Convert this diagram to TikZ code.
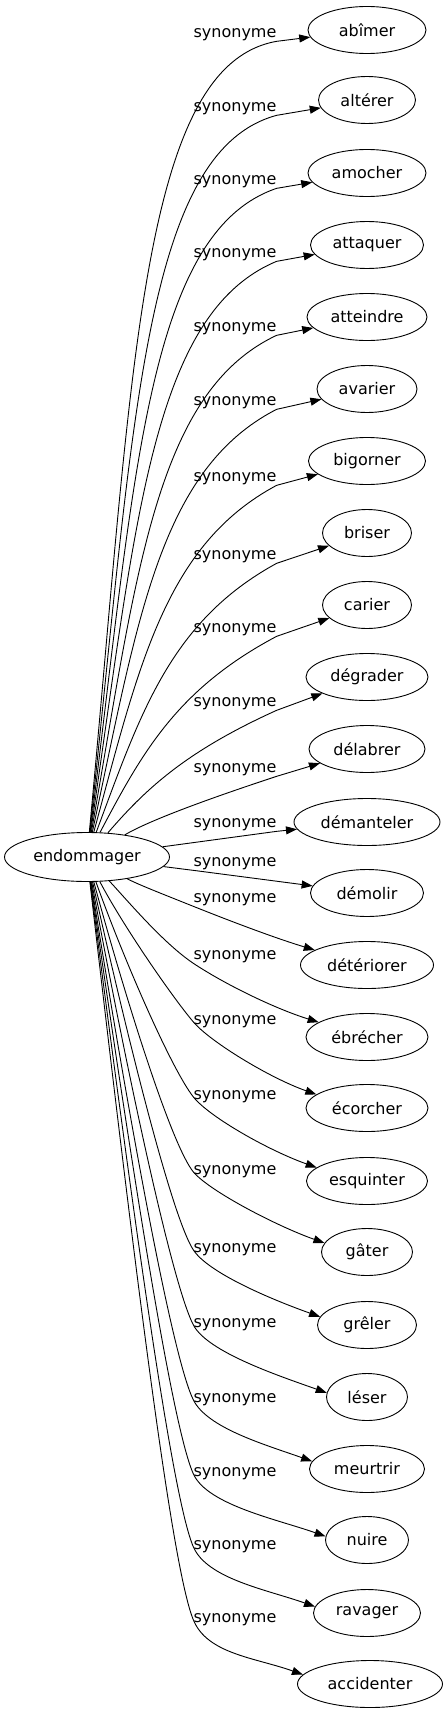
\documentclass[tikz,border=0pt]{standalone}
\usepackage{fontspec}
\setmainfont{DejaVu Sans}
\usetikzlibrary{shapes.geometric,arrows.meta}

\begin{document}
\begin{tikzpicture}[x=1pt,y=-1pt,
  every node/.style={font=\fontsize{16}{19}\selectfont},
  word/.style={draw,ellipse,inner sep=0pt,minimum height=47pt,line width=0.9pt},
  rel/.style={inner sep=0pt},
  link/.style={line width=0.9pt,-{Triangle[length=11pt,width=8pt]}}]

\useasboundingbox (0,0) rectangle (445,1715);

\node[word,minimum width=165pt,minimum height=49pt] (endommager) at (87,857) {endommager};

\node[word,minimum width=118pt] (abimer) at (367,30) {abîmer};
\node[word,minimum width=97pt] (alterer) at (367,100) {altérer};
\node[word,minimum width=118pt] (amocher) at (367,173) {amocher};
\node[word,minimum width=113pt] (attaquer) at (367,245) {attaquer};
\node[word,minimum width=120pt] (atteindre) at (367,317) {atteindre};
\node[word,minimum width=100pt] (avarier) at (367,389) {avarier};
\node[word,minimum width=117pt] (bigorner) at (367,461) {bigorner};
\node[word,minimum width=89pt] (briser) at (367,533) {briser};
\node[word,minimum width=89pt] (carier) at (367,605) {carier};
\node[word,minimum width=122pt] (degrader) at (367,677) {dégrader};
\node[word,minimum width=116pt] (delabrer) at (367,749) {délabrer};
\node[word,minimum width=146pt] (demanteler) at (367,822) {démanteler};
\node[word,minimum width=113pt] (demolir) at (367,893) {démolir};
\node[word,minimum width=133pt] (deteriorer) at (367,965) {détériorer};
\node[word,minimum width=122pt] (ebrecher) at (367,1037) {ébrécher};
\node[word,minimum width=122pt] (ecorcher) at (367,1108) {écorcher};
\node[word,minimum width=121pt] (esquinter) at (367,1181) {esquinter};
\node[word,minimum width=91pt] (gater) at (367,1252) {gâter};
\node[word,minimum width=99pt] (greler) at (367,1325) {grêler};
\node[word,minimum width=81pt] (leser) at (367,1397) {léser};
\node[word,minimum width=115pt] (meurtrir) at (367,1469) {meurtrir};
\node[word,minimum width=83pt] (nuire) at (367,1540) {nuire};
\node[word,minimum width=107pt] (ravager) at (367,1613) {ravager};
\node[word,minimum width=145pt] (accidenter) at (370,1684) {accidenter};

\node[rel] (s1) at (235,35) {synonyme};
\node[rel] (s2) at (235,109) {synonyme};
\node[rel] (s3) at (235,182) {synonyme};
\node[rel] (s4) at (235,255) {synonyme};
\node[rel] (s5) at (235,329) {synonyme};
\node[rel] (s6) at (235,403) {synonyme};
\node[rel] (s7) at (235,479) {synonyme};
\node[rel] (s8) at (235,557) {synonyme};
\node[rel] (s9) at (235,630) {synonyme};
\node[rel] (s10) at (235,704) {synonyme};
\node[rel] (s11) at (235,770) {synonyme};
\node[rel] (s12) at (235,825) {synonyme};
\node[rel] (s13) at (235,864) {synonyme};
\node[rel] (s14) at (235,900) {synonyme};
\node[rel] (s15) at (235,957) {synonyme};
\node[rel] (s16) at (235,1022) {synonyme};
\node[rel] (s17) at (235,1097) {synonyme};
\node[rel] (s18) at (235,1172) {synonyme};
\node[rel] (s19) at (235,1250) {synonyme};
\node[rel] (s20) at (235,1325) {synonyme};
\node[rel] (s21) at (235,1400) {synonyme};
\node[rel] (s22) at (235,1474) {synonyme};
\node[rel] (s23) at (235,1547) {synonyme};
\node[rel] (s24) at (235,1620) {synonyme};

\draw[link] (endommager) .. controls +(46,-490) and +(-136,24) .. (s1.south east) -- (abimer);
\draw[link] (endommager) .. controls +(47,-436) and +(-133,36) .. (s2.south east) -- (alterer);
\draw[link] (endommager) .. controls +(48,-384) and +(-129,44) .. (s3.south east) -- (amocher);
\draw[link] (endommager) .. controls +(49,-335) and +(-125,52) .. (s4.south east) -- (attaquer);
\draw[link] (endommager) .. controls +(50,-285) and +(-121,57) .. (s5.south east) -- (atteindre);
\draw[link] (endommager) .. controls +(51,-238) and +(-117,60) .. (s6.south east) -- (avarier);
\draw[link] (endommager) .. controls +(52,-191) and +(-112,60) .. (s7.south east) -- (bigorner);
\draw[link] (endommager) .. controls +(54,-145) and +(-106,58) .. (s8.south east) -- (briser);
\draw[link] (endommager) .. controls +(55,-104) and +(-100,53) .. (s9.south east) -- (carier);
\draw[link] (endommager) .. controls +(57,-66) and +(-93,42) .. (s10.south east) -- (degrader);
\draw[link] (endommager) .. controls +(58,-34) and +(-85,28) .. (s11.south east) -- (delabrer);
\draw[link] (endommager) -- (s12.south east) -- (demanteler);
\draw[link] (endommager) -- (s13.south west) -- (demolir);
\draw[link] (endommager) .. controls +(50,27) and +(-35,-14) .. (s14.south west) .. controls +(35,14) and +(-40,-12) .. (deteriorer.164);
\draw[link] (endommager) .. controls +(40,43) and +(-30,-20) .. (s15.south west) .. controls +(30,20) and +(-45,-14) .. (ebrecher.163);
\draw[link] (endommager) .. controls +(35,67) and +(-22,-26) .. (s16.west) .. controls +(16,19) and +(-48,-17) .. (ecorcher.165);
\draw[link] (endommager) .. controls +(37,103) and +(-22,-28) .. (s17.west) .. controls +(16,20) and +(-48,-17) .. (esquinter.165);
\draw[link] (endommager) .. controls +(39,143) and +(-22,-27) .. (s18.west) .. controls +(16,19) and +(-48,-17) .. (gater.168);
\draw[link] (endommager) .. controls +(42,188) and +(-21,-32) .. (s19.west) .. controls +(15,23) and +(-48,-17) .. (greler.170);
\draw[link] (endommager) .. controls +(44,236) and +(-20,-38) .. (s20.west) .. controls +(14,27) and +(-48,-17) .. (leser.174);
\draw[link] (endommager) .. controls +(46,287) and +(-20,-40) .. (s21.west) .. controls +(14,28) and +(-48,-17) .. (meurtrir.172);
\draw[link] (endommager) .. controls +(49,341) and +(-20,-44) .. (s22.west) .. controls +(14,31) and +(-48,-17) .. (nuire.175);
\draw[link] (endommager) .. controls +(51,397) and +(-20,-46) .. (s23.west) .. controls +(14,32) and +(-48,-17) .. (ravager.173);
\draw[link] (endommager) .. controls +(53,458) and +(-20,-48) .. (s24.west) .. controls +(14,34) and +(-48,-17) .. (accidenter.172);
\end{tikzpicture}
\end{document}
